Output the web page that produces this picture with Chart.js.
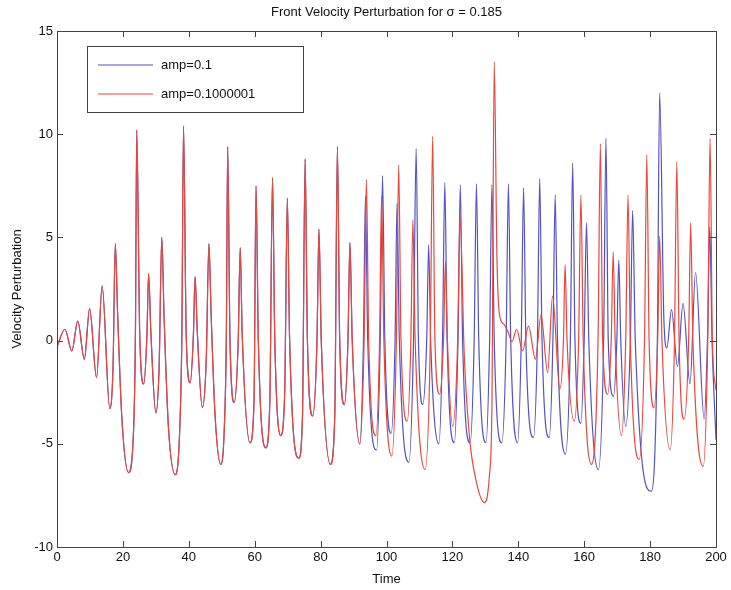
<!DOCTYPE html>
<html>
<head>
<meta charset="utf-8">
<script src="https://cdn.jsdelivr.net/npm/chart.js@4.4.1/dist/chart.umd.min.js"></script>
<style>
  html, body { margin: 0; padding: 0; background: #fff; }
  #wrap { width: 731px; height: 590px; }
</style>
</head>
<body>
<div id="wrap"><canvas id="chart"></canvas></div>
<script>
// shared part (both runs lie on top of each other until ~t=92)
const commonTime = [0, 2.4, 4.5, 6.3, 8.3, 9.9, 12.0, 13.7, 16.0, 17.0, 17.7, 18.4, 19.7, 21.7, 23.2, 23.8,
  24.2, 25.1, 26.3, 27.3, 27.8, 28.5, 30.0, 31.0, 31.8, 32.5, 33.8, 35.9, 37.2, 37.9, 38.4, 39.2,
  40.4, 41.4, 41.9, 42.6, 44.1, 45.3, 46.1, 46.8, 48.0, 49.7, 50.8, 51.4, 51.8, 52.5, 53.8, 55.0,
  55.6, 56.2, 58.6, 59.8, 60.4, 61.1, 63.4, 64.6, 65.4, 66.1, 67.9, 69.1, 69.9, 70.6, 73.4, 74.5,
  75.3, 76.0, 77.6, 78.9, 79.5, 80.2, 83.0, 84.3, 85.1, 85.8, 87.2, 88.3, 88.9, 89.6, 91.9];
const commonVel = [-0.3, 0.55, -0.5, 0.95, -0.9, 1.55, -1.8, 2.65, -3.3, -1.3, 4.7, 1.3, -3.8, -6.4, -4.5, 0.35,
  10.2, 0.35, -2.1, 0.3, 3.25, 0.35, -3.5, -1.25, 5.0, 1.15, -4.15, -6.5, -4.5, 0.35, 10.4, 0.35,
  -2.05, 0.3, 3.1, 0.35, -3.25, -0.9, 4.7, 1.15, -3.7, -6.0, -4.15, 0.35, 9.4, 0.0, -3.0, 0.0,
  4.5, 0.35, -4.95, -2.9, 7.5, 0.0, -5.2, -2.9, 7.9, 0.0, -4.6, -2.55, 6.9, 0.0, -5.7, -3.65,
  8.8, 0.0, -3.65, 0.0, 5.4, 0.0, -6.0, -3.65, 9.4, 0.0, -3.1, 0.0, 4.75, 0.0, -5.0];

// amp=0.1 after the split
const blueTime = [93.0, 93.6, 94.3, 97.0, 98.1, 98.8, 99.5, 101.4, 102.6, 103.2, 103.9, 106.8, 108.2, 109.0,
  109.7, 111.0, 112.2, 112.8, 113.4, 115.9, 117.0, 117.7, 118.4, 120.6, 121.7, 122.4, 123.1, 125.4,
  126.6, 127.3, 128.0, 130.2, 131.3, 132.0, 132.7, 135.0, 136.3, 137.0, 137.7, 139.8, 140.9, 141.6,
  142.3, 144.6, 145.8, 146.5, 147.2, 149.4, 150.5, 151.2, 151.9, 154.3, 155.8, 156.5, 157.2, 159.0,
  160.0, 160.7, 161.4, 164.3, 165.9, 166.6, 167.3, 168.9, 169.9, 170.5, 171.1, 172.6, 174.0, 174.7,
  175.5, 180.4, 182.2, 182.9, 184.2, 185.1, 186.5, 188.3, 190.0, 192.1, 193.8, 196.4, 197.4, 198.1,
  198.8, 200];
const blueVel = [0.0, 7.0, 0.0, -5.3, 0.0, 8.0, 0.0, -4.5, 0.0, 6.65, 0.0, -5.9, 0.0, 9.3,
  0.0, -3.1, 0.0, 4.65, 0.0, -5.0, 0.0, 7.65, 0.0, -4.95, 0.0, 7.55, 0.0, -4.95,
  0.0, 7.6, 0.0, -4.95, 0.0, 7.55, 0.0, -4.95, 0.0, 7.6, 0.0, -4.95, 0.0, 7.4,
  0.0, -4.7, 0.0, 7.85, 0.0, -4.7, 0.0, 7.05, 0.0, -5.5, 0.0, 8.6, 0.0, -4.0,
  0.0, 5.7, 0.0, -6.25, 0.0, 9.8, 0.0, -2.7, 0.0, 3.9, 0.0, -4.15, 0.0, 6.3,
  0.0, -7.3, 0.0, 12.0, 0.95, -0.35, 1.5, -1.25, 1.8, -2.1, 3.3, -3.8, 0.0, 5.5,
  0.0, -4.8];

// amp=0.1000001 after the split
const redTime = [93.2, 93.9, 94.6, 96.8, 97.9, 98.5, 99.2, 101.6, 103.0, 103.7, 104.4, 106.3, 107.4, 108.0,
  108.7, 111.7, 113.3, 114.0, 114.7, 116.1, 117.3, 117.9, 118.5, 120.1, 121.6, 122.3, 123.6, 125.2,
  127.2, 129.7, 131.2, 132.0, 132.7, 133.5, 134.3, 135.6, 136.8, 138.1, 139.5, 141.3, 143.1, 145.2,
  146.9, 148.9, 150.4, 152.6, 153.7, 154.2, 154.8, 157.0, 158.3, 159.0, 159.7, 162.2, 164.2, 164.9,
  165.6, 167.1, 168.2, 168.8, 169.4, 171.3, 172.6, 173.3, 174.0, 176.7, 178.3, 179.0, 179.7, 181.2,
  182.3, 182.9, 183.6, 186.1, 187.4, 188.1, 188.8, 190.3, 191.7, 192.3, 193.0, 196.1, 197.5, 198.2,
  198.9, 200];
const redVel = [0.0, 7.8, 0.0, -4.6, 0.0, 7.0, 0.0, -5.6, 0.0, 8.5, 0.0, -3.9, 0.0, 5.85,
  0.0, -6.25, 0.0, 9.9, 0.0, -2.6, 0.0, 3.85, 0.0, -4.15, 0.0, 6.0, -0.7, -4.7,
  -6.8, -7.85, -6.6, -3.1, 13.5, 4.15, 1.25, 0.8, 0.45, -0.05, 0.55, -0.5, 0.7, -0.9,
  1.25, -1.55, 2.15, -2.35, 0.0, 3.7, 0.0, -3.9, 0.0, 7.05, 0.0, -6.0, 0.0, 9.55,
  0.0, -2.6, 0.0, 4.3, 0.0, -4.6, 0.0, 7.05, 0.0, -5.75, 0.0, 9.0, 0.0, -3.25,
  0.0, 5.05, 0.0, -5.3, 0.0, 8.65, 0.0, -3.8, 0.0, 5.7, 0.0, -6.1, 0.0, 9.8,
  0.0, -2.4];

const xTicks = [0, 20, 40, 60, 80, 100, 120, 140, 160, 180, 200];
const yTicks = [-10, -5, 0, 5, 10, 15];

const toPoints = (ts, vs) => ts.map((t, i) => ({ x: t, y: vs[i] }));
const bluePts = toPoints(commonTime, commonVel).concat(toPoints(blueTime, blueVel));
const redPts = toPoints(commonTime, commonVel).concat(toPoints(redTime, redVel));

const BLUE = "#5252c2", RED = "#e8473d", FONT = "'Liberation Sans', Arial, sans-serif";

// MATLAB-like box with inward ticks, title and legend
const matlabBox = {
  id: "matlabBox",
  afterDraw(chart) {
    const { ctx, chartArea: a, scales } = chart;
    ctx.save();
    ctx.strokeStyle = "#444";
    ctx.lineWidth = 1;
    ctx.strokeRect(a.left + 0.5, a.top + 0.5, a.right - a.left, a.bottom - a.top);
    ctx.beginPath();
    xTicks.forEach((v) => {
      const px = Math.round(scales.x.getPixelForValue(v)) + 0.5;
      ctx.moveTo(px, a.bottom); ctx.lineTo(px, a.bottom - 6);
      ctx.moveTo(px, a.top); ctx.lineTo(px, a.top + 6);
    });
    yTicks.forEach((v) => {
      const py = Math.round(scales.y.getPixelForValue(v)) + 0.5;
      ctx.moveTo(a.left, py); ctx.lineTo(a.left + 6, py);
      ctx.moveTo(a.right, py); ctx.lineTo(a.right - 6, py);
    });
    ctx.stroke();

    // title
    ctx.fillStyle = "#111";
    ctx.font = "13px " + FONT;
    ctx.textAlign = "center";
    ctx.textBaseline = "middle";
    ctx.fillText("Front Velocity Perturbation for \u03c3 = 0.185", (a.left + a.right) / 2, 12);

    // legend
    const lx = 87, ly = 46, lw = 216, lh = 66;
    ctx.fillStyle = "#fff";
    ctx.fillRect(lx, ly, lw, lh);
    ctx.strokeStyle = "#444";
    ctx.strokeRect(lx + 0.5, ly + 0.5, lw, lh);
    ctx.textAlign = "left";
    chart.data.datasets.forEach((ds, i) => {
      const yy = ly + 19 + i * 29;
      ctx.strokeStyle = ds.borderColor;
      ctx.lineWidth = 1.2;
      ctx.beginPath();
      ctx.moveTo(98, yy); ctx.lineTo(153, yy);
      ctx.stroke();
      ctx.fillStyle = "#111";
      ctx.fillText(ds.label, 161, yy);
    });
    ctx.restore();
  }
};

new Chart(document.getElementById("chart"), {
  type: "line",
  data: {
    datasets: [
      { label: "amp=0.1", data: bluePts, borderColor: BLUE, borderWidth: 1.2, order: 1 },
      { label: "amp=0.1000001", data: redPts, borderColor: RED, borderWidth: 1.2, order: 0 }
    ]
  },
  options: {
    responsive: true,
    maintainAspectRatio: false,
    animation: false,
    parsing: false,
    layout: { padding: { top: 31, right: 15, left: 0, bottom: 0 } },
    elements: {
      point: { radius: 0 },
      line: { cubicInterpolationMode: "monotone", fill: false }
    },
    plugins: { legend: { display: false }, tooltip: { enabled: false }, title: { display: false } },
    scales: {
      x: {
        type: "linear",
        min: 0, max: 200,
        afterFit: (s) => { s.height = 43; },
        afterBuildTicks: (s) => { s.ticks = xTicks.map((v) => ({ value: v })); },
        grid: { display: false, drawTicks: false },
        border: { display: false },
        ticks: { color: "#111", font: { family: FONT, size: 13 }, padding: 3, maxRotation: 0 },
        title: { display: true, text: "Time", color: "#111", font: { family: FONT, size: 13 }, padding: { bottom: 3 } }
      },
      y: {
        type: "linear",
        min: -10, max: 15,
        afterFit: (s) => { s.width = 57; },
        afterBuildTicks: (s) => { s.ticks = yTicks.map((v) => ({ value: v })); },
        grid: { display: false, drawTicks: false },
        border: { display: false },
        ticks: { color: "#111", font: { family: FONT, size: 13 }, padding: 4 },
        title: { display: true, text: "Velocity Perturbation", color: "#111", font: { family: FONT, size: 13 }, padding: { top: 10 } }
      }
    }
  },
  plugins: [matlabBox]
});
</script>
</body>
</html>
